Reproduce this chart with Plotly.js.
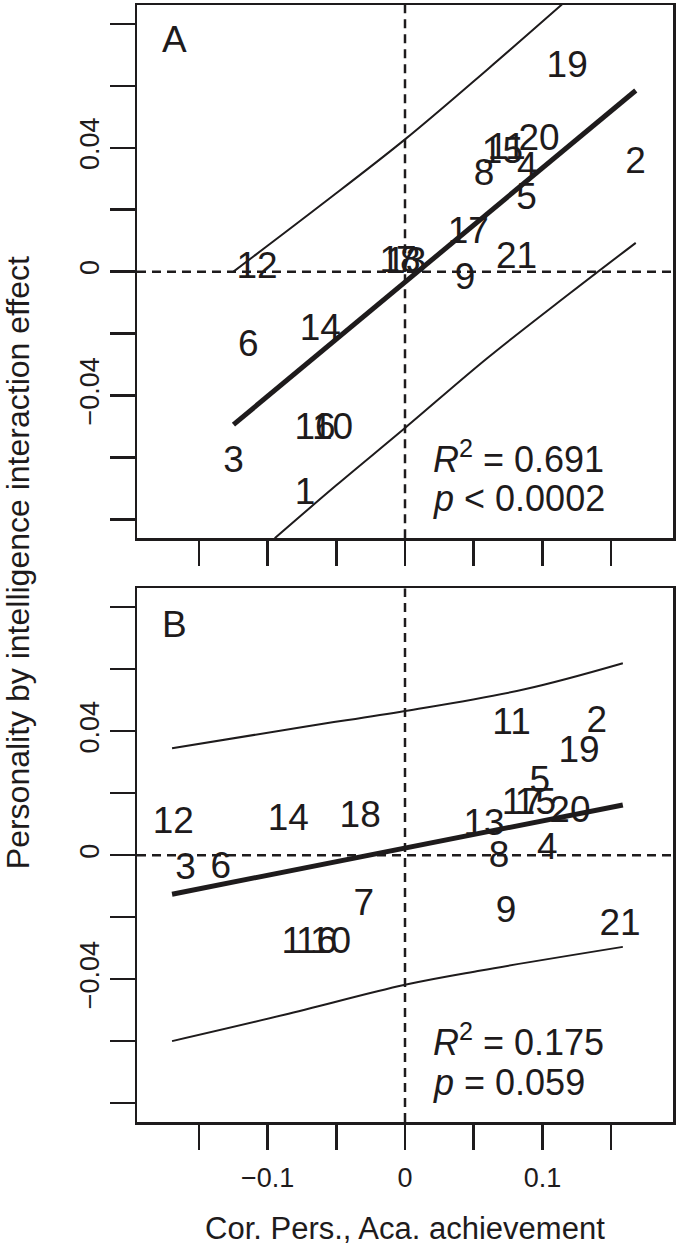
<!DOCTYPE html>
<html>
<head>
<meta charset="utf-8">
<script src="https://cdn.plot.ly/plotly-3.0.1.min.js"></script>
<style>
html,body{margin:0;padding:0;background:#fff;}
#chart{width:685px;height:1248px;}
</style>
</head>
<body>
<div id="chart"></div>
<script>
// ---------- data ----------
var labelsA = ["1","2","3","4","5","6","7","8","9","10","11","12","13","14","15","16","17","18","19","20","21"];
var xA = [-0.0727, 0.1677, -0.1248, 0.0890, 0.0884, -0.1140, 0.0010, 0.0576, 0.0436, -0.0527, 0.0740, -0.1076, 0.0005, -0.0616, 0.0709, -0.0654, 0.0460, -0.0036, 0.1180, 0.0975, 0.0812];
var yA = [-0.0720, 0.0348, -0.0618, 0.0332, 0.0233, -0.0241, 0.0028, 0.0311, -0.0026, -0.0510, 0.0392, 0.0009, 0.0025, -0.0190, 0.0381, -0.0510, 0.0122, 0.0028, 0.0658, 0.0424, 0.0041];

var labelsB = ["1","2","3","4","5","6","7","8","9","10","11","12","13","14","15","16","17","18","19","20","21"];
var xB = [-0.0823, 0.1395, -0.1596, 0.1035, 0.0981, -0.1341, -0.0300, 0.0684, 0.0735, -0.0542, 0.0775, -0.1686, 0.0575, -0.0849, 0.0949, -0.0644, 0.0854, -0.0326, 0.1267, 0.1200, 0.1565];
var yB = [-0.0285, 0.0426, -0.0048, 0.0019, 0.0234, -0.0043, -0.0162, -0.0008, -0.0186, -0.0285, 0.0420, 0.0100, 0.0094, 0.0110, 0.0162, -0.0285, 0.0162, 0.0121, 0.0331, 0.0138, -0.0229];

var fitA_x = [-0.1248, 0.1679];
var fitA_y = [-0.0494, 0.0585];
var upperA_x = [-0.1248, -0.06, 0, 0.06, 0.125];
var upperA_y = [0.0000, 0.0219, 0.0427, 0.0653, 0.0905];
var lowerA_x = [-0.0948, -0.05, 0, 0.06, 0.12, 0.1679];
var lowerA_y = [-0.0861, -0.0690, -0.0505, -0.0279, -0.0070, 0.0093];

var fitB_x = [-0.1695, 0.1585];
var fitB_y = [-0.0126, 0.0162];
var upperB_x = [-0.1695, -0.072, 0, 0.087, 0.1585];
var upperB_y = [0.0345, 0.0415, 0.0465, 0.0535, 0.0619];
var lowerB_x = [-0.1695, -0.0878, 0, 0.0552, 0.1585];
var lowerB_y = [-0.0600, -0.0515, -0.0418, -0.0372, -0.0296];

var xTickVals = [-0.1, 0, 0.1];
var xTickText = ["\u22120.1", "0", "0.1"];
var xMinorStep = 0.05;
var yTickVals = [-0.04, 0, 0.04];
var yTickText = ["\u22120.04", "0", "0.04"];
var yMinorStep = 0.02;

var statsA = ["<i>R</i><sup>2</sup> = 0.691", "<i>p</i> < 0.0002"];
var statsB = ["<i>R</i><sup>2</sup> = 0.175", "<i>p</i> = 0.059"];
var panelNames = ["A", "B"];
var xTitle = "Cor. Pers., Aca. achievement";
var yTitle = "Personality by intelligence interaction effect";

// ---------- styling ----------
var INK = "#1e1b1c";
var FONT = "Liberation Sans, Arial, Helvetica, sans-serif";
var XR = [-0.195, 0.195];
var YR = [-0.0861, 0.0861];

function lineTrace(x, y, w, xa, ya, smooth) {
  return {x: x, y: y, mode: "lines", type: "scatter", xaxis: xa, yaxis: ya,
          line: {color: INK, width: w, shape: smooth ? "spline" : "linear", smoothing: 1},
          hoverinfo: "skip", showlegend: false};
}
function textTrace(x, y, t, xa, ya) {
  return {x: x, y: y, text: t, mode: "text", type: "scatter", xaxis: xa, yaxis: ya,
          textposition: "middle center", textfont: {family: FONT, size: 37, color: INK},
          hoverinfo: "skip", showlegend: false, cliponaxis: false};
}

var data = [
  lineTrace(upperA_x, upperA_y, 2, "x", "y", true),
  lineTrace(lowerA_x, lowerA_y, 2, "x", "y", true),
  lineTrace(fitA_x, fitA_y, 5, "x", "y", false),
  textTrace(xA, yA, labelsA, "x", "y"),
  lineTrace(upperB_x, upperB_y, 2, "x2", "y2", true),
  lineTrace(lowerB_x, lowerB_y, 2, "x2", "y2", true),
  lineTrace(fitB_x, fitB_y, 5, "x2", "y2", false),
  textTrace(xB, yB, labelsB, "x2", "y2")
];

function xaxisDef(anchor, showLabels) {
  return {anchor: anchor, domain: [0, 1], range: XR, showgrid: false, zeroline: false,
          showline: true, mirror: true, linecolor: INK, linewidth: 2.5,
          ticks: "outside", ticklen: 25, tickwidth: 2.5, tickcolor: INK,
          tickmode: "array", tickvals: xTickVals, ticktext: xTickText,
          minor: {dtick: xMinorStep, tick0: 0, ticks: "outside", ticklen: 25, tickwidth: 2.5,
                  tickcolor: INK, showgrid: false},
          ticklabelstandoff: 5,
          showticklabels: showLabels, tickfont: {family: FONT, size: 27, color: INK}};
}
function yaxisDef(anchor, dom) {
  return {anchor: anchor, domain: dom, range: YR, showgrid: false, zeroline: false,
          showline: true, mirror: true, linecolor: INK, linewidth: 2.5,
          ticks: "outside", ticklen: 25, tickwidth: 2.5, tickcolor: INK,
          tickmode: "array", tickvals: yTickVals, ticktext: yTickText, tickangle: -90,
          minor: {dtick: yMinorStep, tick0: 0, ticks: "outside", ticklen: 25, tickwidth: 2.5,
                  tickcolor: INK, showgrid: false},
          tickfont: {family: FONT, size: 27, color: INK}};
}

function dashed(xa, ya) {
  return [
    {type: "line", xref: xa, yref: ya, x0: 0, x1: 0, y0: YR[0], y1: YR[1],
     line: {color: INK, width: 2.5, dash: "9px,6px"}, layer: "below"},
    {type: "line", xref: xa, yref: ya, x0: XR[0], x1: XR[1], y0: 0, y1: 0,
     line: {color: INK, width: 2.5, dash: "9px,6px"}, layer: "below"}
  ];
}

function ann(text, x, y, xa, ya, size, xanchor) {
  return {text: text, x: x, y: y, xref: xa, yref: ya, showarrow: false,
          xanchor: xanchor, yanchor: "middle",
          font: {family: FONT, size: size, color: INK}};
}

var annotations = [
  ann(panelNames[0], -0.1675, 0.0750, "x", "y", 37, "center"),
  ann(panelNames[1], -0.1675, 0.0745, "x2", "y2", 37, "center"),
  ann(statsA[0], 0.0187, -0.0599, "x", "y", 36, "left"),
  ann(statsA[1], 0.0187, -0.0731, "x", "y", 36, "left"),
  ann(statsB[0], 0.0187, -0.0598, "x2", "y2", 36, "left"),
  ann(statsB[1], 0.0187, -0.0732, "x2", "y2", 36, "left"),
  {text: xTitle, x: 0.5, y: -0.0952, xref: "paper", yref: "paper", showarrow: false,
   xanchor: "center", yanchor: "middle", font: {family: FONT, size: 31, color: INK}},
  {text: yTitle, x: -0.222, y: 0.5003, xref: "paper", yref: "paper", showarrow: false,
   textangle: -90, xanchor: "center", yanchor: "middle", font: {family: FONT, size: 32, color: INK}}
];

var layout = {
  width: 685, height: 1248,
  margin: {l: 137, r: 12, t: 5, b: 126, pad: 0},
  paper_bgcolor: "#ffffff", plot_bgcolor: "#ffffff",
  showlegend: false,
  xaxis: xaxisDef("y", false),
  yaxis: yaxisDef("x", [0.5226, 1]),
  xaxis2: xaxisDef("y2", true),
  yaxis2: yaxisDef("x2", [0, 0.4778]),
  shapes: dashed("x", "y").concat(dashed("x2", "y2")),
  annotations: annotations
};

Plotly.newPlot("chart", data, layout, {staticPlot: true, displayModeBar: false});
</script>
</body>
</html>
